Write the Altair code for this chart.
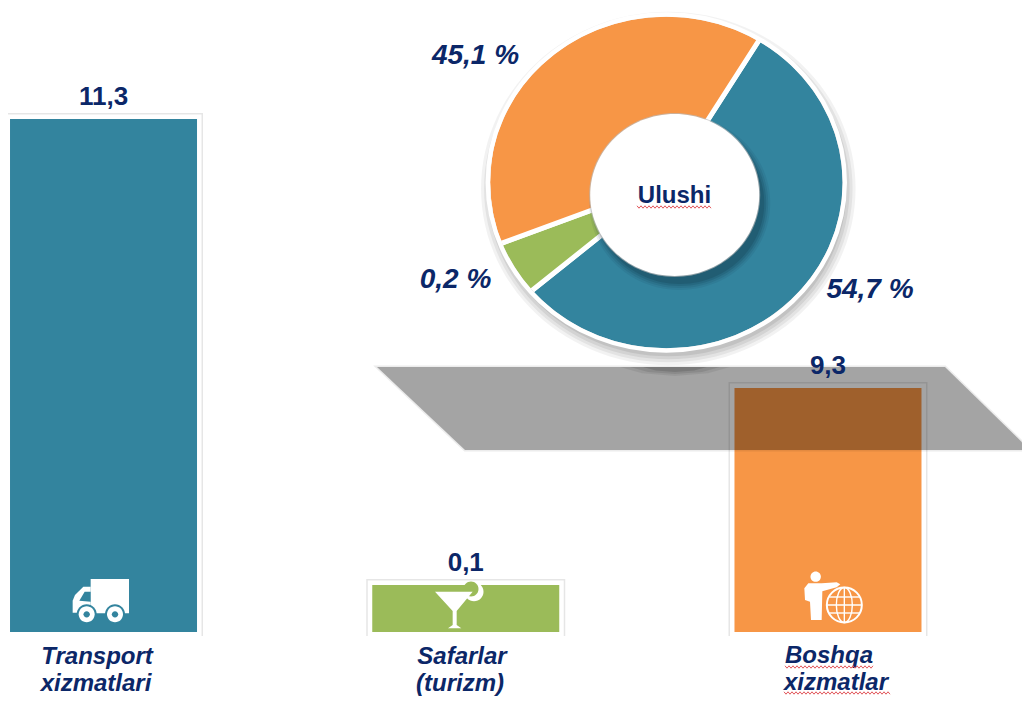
import math
import altair as alt
import pandas as pd

categories = ["Transport xizmatlari", "Safarlar (turizm)", "Boshqa xizmatlar"]
values = [11.3, 0.1, 9.3]
value_labels = ["11,3", "0,1", "9,3"]
slice_shares_drawn = [55.2, 5.1, 39.7]
slice_labels = ["54,7 %", "0,2 %", "45,1 %"]
colors = ["#33849E", "#9BBB59", "#F79646"]
NAVY = "#0B2768"
FONT = "Liberation Sans"
W, H = 1014, 688

df = pd.DataFrame({"category": categories, "value": values, "label": value_labels,
                   "share": slice_shares_drawn, "order": [0, 1, 2]})
base = alt.Chart(df)

x_enc = alt.X("category:N", axis=None, sort=categories,
              scale=alt.Scale(domain=categories, range=[-85.6, 1001.1], paddingInner=0.484, paddingOuter=0.242))
y_enc = alt.Y("value:Q", axis=None,
              scale=alt.Scale(domain=[0, 0.1, 9.3, 11.3], range=[624, 577, 380, 111]))
col_enc = alt.Color("category:N", legend=None, scale=alt.Scale(domain=categories, range=colors))


def P(v):
    return f"{v - 8:.2f}"


def ell(cx, cy, rx, ry, rev=False):
    k = 0.5523
    pts = [(cx + rx, cy), (cx + rx, cy + k * ry), (cx + k * rx, cy + ry), (cx, cy + ry),
           (cx - k * rx, cy + ry), (cx - rx, cy + k * ry), (cx - rx, cy),
           (cx - rx, cy - k * ry), (cx - k * rx, cy - ry), (cx, cy - ry),
           (cx + k * rx, cy - ry), (cx + rx, cy - k * ry), (cx + rx, cy)]
    if rev:
        pts = pts[::-1]
    s = f"M{P(pts[0][0])},{P(pts[0][1])}"
    for i in range(1, 13, 3):
        s += "C" + " ".join(f"{P(a)},{P(b)}" for a, b in pts[i:i + 3])
    return s + "Z"


def poly(points, close=True):
    s = "M" + "L".join(f"{P(a)},{P(b)}" for a, b in points)
    return s + ("Z" if close else "")


def zoomed(ox, oy, pts):
    return [(ox + a / 3, oy + b / 3) for a, b in pts]


def wave(x0, x1, y):
    pts, i, x = [], 0, x0
    while x <= x1:
        pts.append((x, y + (1.2 if i % 2 else -1.2)))
        x += 2
        i += 1
    return poly(pts, close=False)


def crescent(cx, cy, rx, ry, ox, oy, a, b):
    """Outline of an offset ellipse, pushed out to never fall inside the base ellipse, minus that ellipse."""
    pts = []
    for d in range(0, 360, 3):
        t = math.radians(d)
        x, y = ox + a * math.cos(t), oy + b * math.sin(t)
        q = ((x - cx) / rx) ** 2 + ((y - cy) / ry) ** 2
        if q < 1:
            x, y = cx + (x - cx) / math.sqrt(q), cy + (y - cy) / math.sqrt(q)
        pts.append((x, y))
    return poly(pts) + ell(cx, cy, rx, ry, rev=True)


def deco(path, fill=None, opacity=1.0, stroke=None, sw=0.0):
    kw = dict(shape=path, size=4, opacity=opacity)
    if fill:
        kw.update(filled=True, fill=fill)
    else:
        kw.update(filled=False, fill="transparent")
    if stroke:
        kw.update(stroke=stroke, strokeWidth=sw)
    else:
        kw.update(strokeWidth=0)
    return alt.Chart(pd.DataFrame({"d": [0]})).mark_point(**kw).encode(x=alt.value(0), y=alt.value(0))


layers = []

# bars with the pale frame round them
layers.append(base.mark_bar(width=187, fill="white", stroke="#E6E6E6", strokeWidth=12).encode(x=x_enc, y=y_enc))
layers.append(base.mark_bar(width=187, fill="white", stroke="white", strokeWidth=9).encode(x=x_enc, y=y_enc))
layers.append(deco(poly([(0, 636), (1030, 636), (1030, 645), (0, 645)]), fill="white"))
layers.append(base.mark_bar(width=187).encode(x=x_enc, y=y_enc, color=col_enc))

# truck
ox, oy = 0, 560
layers.append(deco(poly(zoomed(ox, oy, [(272, 57), (387, 57), (387, 160), (272, 160)])), fill="white"))
layers.append(deco(poly(zoomed(ox, oy, [(272, 80), (250, 80), (225, 105), (218, 122), (218, 158), (272, 158)])), fill="white"))
layers.append(deco(poly(zoomed(ox, oy, [(272, 95), (254, 95), (238, 122), (272, 125)])), fill=colors[0]))
for cx in (260, 345):
    layers.append(deco(ell(cx / 3, oy + 163 / 3, 10, 10), fill=colors[0]))
    layers.append(deco(ell(cx / 3, oy + 163 / 3, 8, 8), fill="white"))
    layers.append(deco(ell(cx / 3, oy + 163 / 3, 3.2, 3.2), fill=colors[0]))

# cocktail
ox, oy = 360, 545
layers.append(deco(ell(ox + 342 / 3, oy + 140 / 3, 9.5, 9.5), fill="white"))
layers.append(deco(ell(ox + 333 / 3, oy + 132 / 3, 7.5, 7.5), fill=colors[1]))
layers.append(deco(poly(zoomed(ox, oy, [(225, 140), (338, 140), (290, 198), (290, 240), (304, 250), (264, 250),
                                        (278, 240), (278, 198)])), fill="white"))

# person and globe
ox, oy = 725, 550
layers.append(deco(ell(ox + 272 / 3, oy + 80 / 3, 5.2, 5.2), fill="white"))
layers.append(deco(poly(zoomed(ox, oy, [(250, 100), (290, 100), (335, 97), (346, 103), (335, 112), (292, 124),
                                        (290, 210), (258, 210), (255, 155), (240, 150), (238, 115)])), fill="white"))
gx, gy, gr = ox + 358 / 3, oy + 165 / 3, 17.5
layers.append(deco(ell(gx, gy, gr, gr), stroke="white", sw=2))
layers.append(deco(ell(gx, gy, 8, gr), stroke="white", sw=1.4))
layers.append(deco(poly([(gx, gy - gr), (gx, gy + gr)], close=False), stroke="white", sw=1.4))
layers.append(deco(poly([(gx - gr, gy), (gx + gr, gy)], close=False), stroke="white", sw=1.4))
layers.append(deco(poly([(gx - 15, gy - 8), (gx + 15, gy - 8)], close=False), stroke="white", sw=1.4))
layers.append(deco(poly([(gx - 15, gy + 8), (gx + 15, gy + 8)], close=False), stroke="white", sw=1.4))

# doughnut slices
start = math.radians(32.7)
layers.append(base.mark_arc(outerRadius=180, innerRadius=60, stroke="white", strokeWidth=5).encode(
    theta=alt.Theta("share:Q", stack=True, scale=alt.Scale(range=[start, start + 2 * math.pi])),
    color=col_enc,
    order=alt.Order("order:Q"),
    x=alt.value(668 - 8), y=alt.value(182 - 8)))

# the slices' outline is a slightly flattened ellipse
CX, CY, RX, RY = 666.3, 182.5, 176.3, 165.8
layers.append(deco(ell(CX, CY, 196, 192) + ell(CX, CY, RX, RY, rev=True), fill="white"))
for grow, op in [(11, 0.05), (8, 0.06), (5, 0.07), (2, 0.08)]:
    layers.append(deco(crescent(CX, CY, RX, RY, CX + 2, CY + 6, RX + grow, RY + grow), fill="#000000", opacity=op))
layers.append(deco(ell(CX, CY, RX + 2.2, RY + 2.2), stroke="white", sw=4.4))

# slab shadow
slab = poly([(377, 367), (945, 367), (1030, 450), (465, 450)])
layers.append(deco(slab, fill="#000000", opacity=0.30))
layers.append(deco(slab, fill="#000000", opacity=0.07, stroke="#000000", sw=3))
for rx, ry, op in [(55, 9, 0.07), (45, 7, 0.09), (32, 5, 0.12)]:
    layers.append(deco(poly([(675 - rx, 367), (675 + rx, 367), (675 + rx * 0.6, 367 + ry * 0.7), (675, 367 + ry),
                             (675 - rx * 0.6, 367 + ry * 0.7)]), fill="#000000", opacity=op))

# centre disc
HX, HY, HRX, HRY = 674.7, 195, 84.5, 81
for grow, op in [(6, 0.08), (4, 0.10), (2, 0.14), (0, 0.18)]:
    layers.append(deco(ell(HX + 5, HY + 8, HRX + grow, HRY + grow), fill="#0A2A3A", opacity=op))
layers.append(deco(ell(HX, HY, HRX + 1, HRY + 1), fill="#BBBBBB", opacity=0.7))
layers.append(deco(ell(HX, HY, HRX, HRY), fill="white"))

# value labels above the bars
layers.append(base.mark_text(font=FONT, fontWeight="bold", fontSize=26, color=NAVY, dy=-14,
                             baseline="alphabetic").encode(x=x_enc, y=y_enc, text="label:N"))


def text(s, x, y, size=24, italic=True, align="center"):
    kw = dict(font=FONT, fontWeight="bold", fontSize=size, color=NAVY, align=align, baseline="alphabetic")
    if italic:
        kw["fontStyle"] = "italic"
    return alt.Chart(pd.DataFrame({"t": [s]})).mark_text(**kw).encode(
        x=alt.value(x - 8), y=alt.value(y - 8), text="t:N")


layers.append(text(slice_labels[2], 475.5, 64, size=28))
layers.append(text(slice_labels[1], 455.5, 288, size=28))
layers.append(text(slice_labels[0], 870, 298, size=28))
layers.append(text("Ulushi", 674.5, 203, size=24, italic=False))

layers.append(text("Transport", 97, 664))
layers.append(text("xizmatlari", 96, 691))
layers.append(text("Safarlar", 462, 664))
layers.append(text("(turizm)", 460, 691))
layers.append(text("Boshqa", 785, 663, align="left"))
layers.append(text("xizmatlar", 784, 690, align="left"))

for x0, x1, y in [(637, 712, 207), (785, 873, 667), (784, 890, 693)]:
    layers.append(deco(wave(x0, x1, y), stroke="#E2565A", sw=1))

chart = alt.layer(*layers).properties(
    width=W, height=H, padding=0, background="white",
    autosize=alt.AutoSizeParams(type="none"),
).configure_view(strokeWidth=0)

chart.save("out.html", embed_options={"renderer": "svg", "actions": False})
